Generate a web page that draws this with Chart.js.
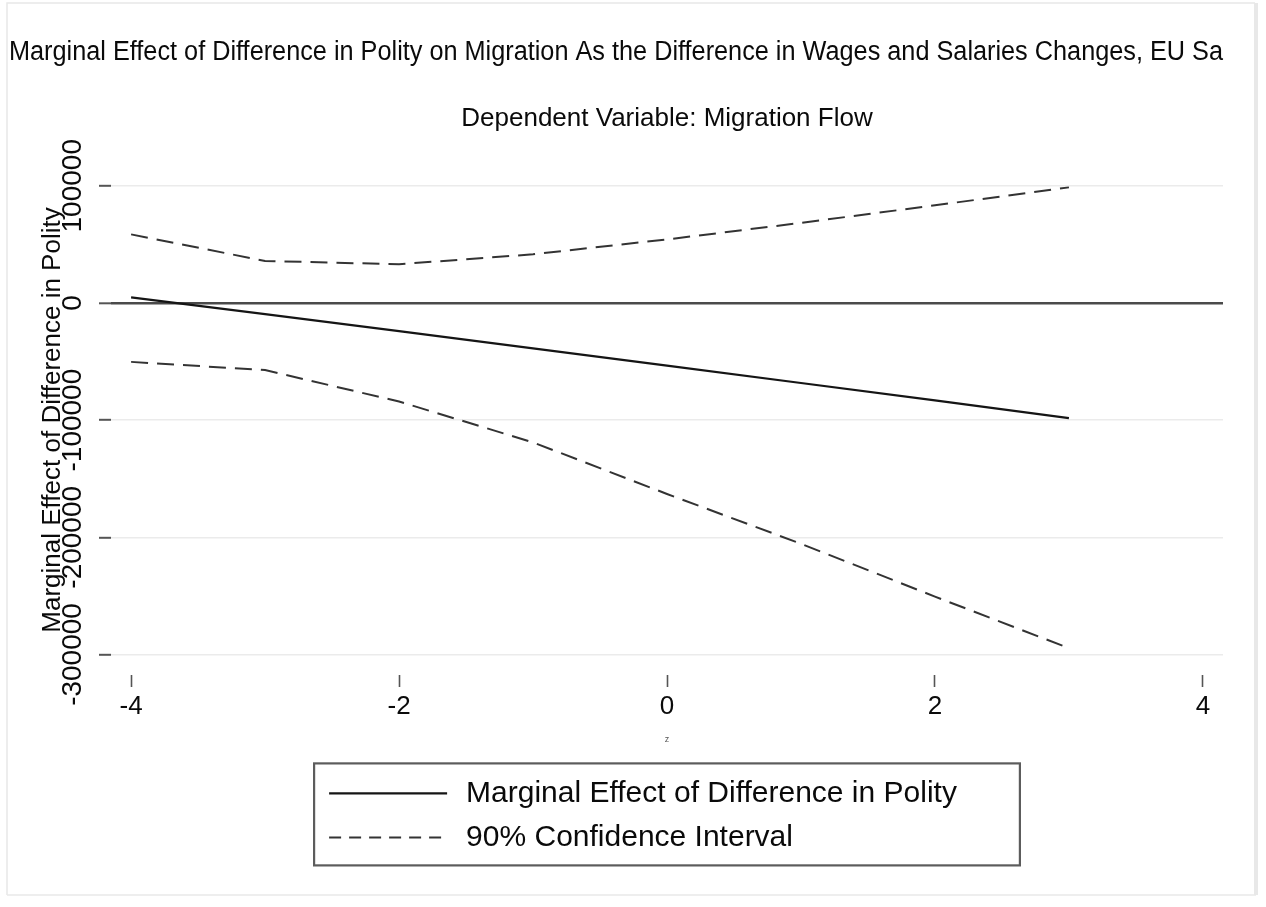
<!DOCTYPE html>
<html>
<head>
<meta charset="utf-8">
<title>Marginal Effect of Difference in Polity</title>
<script src="https://cdn.jsdelivr.net/npm/chart.js@4.4.1/dist/chart.umd.min.js"></script>
<style>
  html, body { margin: 0; padding: 0; background: #fff; }
  #wrap { width: 1266px; height: 907px; }
</style>
</head>
<body>
<div id="wrap"><canvas id="me-canvas" width="1266" height="907"></canvas></div>
<script>
// Marginal effect of polity difference across z, with 90% CI (Stata-style plot).

const zValues = [-4, -3, -2, -1, 0, 1, 2, 3];
const marginalEffect = [4800, -9500, -24000, -38800, -53500, -68300, -83200, -98300];
const ciUpper = [58500, 35800, 33000, 41500, 54200, 68300, 83300, 98600];
const ciLower = [-50300, -57300, -84100, -119000, -163000, -205500, -250600, -294600];

const xTicks = [-4, -2, 0, 2, 4];
const yTicks = [-300000, -200000, -100000, 0, 100000];

const titleText = 'Marginal Effect of Difference in Polity on Migration As the Difference in Wages and Salaries Changes, EU Sa';
const subtitleText = 'Dependent Variable: Migration Flow';
const yTitle = 'Marginal Effect of Difference in Polity';
const xTitle = 'z';
const legendLabels = ['Marginal Effect of Difference in Polity', '90% Confidence Interval'];

const FONT = '"Liberation Sans", Arial, Helvetica, sans-serif';
const INK = '#0a0a0a';

const toPoints = (ys) => zValues.map((z, i) => ({ x: z, y: ys[i] }));

// light frame round the whole graph, like the exported image
const frame = {
  id: 'frame',
  beforeDraw(chart) {
    const { ctx } = chart;
    ctx.save();
    ctx.fillStyle = '#fff';
    ctx.fillRect(0, 0, chart.width, chart.height);
    ctx.strokeStyle = '#e8e8e8';
    ctx.lineWidth = 1.5;
    ctx.beginPath();
    ctx.moveTo(7, 895);
    ctx.lineTo(7, 3);
    ctx.lineTo(1255, 3);
    ctx.stroke();
    ctx.lineWidth = 4;
    ctx.beginPath();
    ctx.moveTo(1256, 3);
    ctx.lineTo(1256, 895);
    ctx.stroke();
    ctx.lineWidth = 1.5;
    ctx.beginPath();
    ctx.moveTo(7, 895);
    ctx.lineTo(1256, 895);
    ctx.stroke();
    ctx.restore();
  },
};

// Stata prints the y labels turned on their side, on top of the axis title
const yTickLabels = {
  id: 'yTickLabels',
  afterDraw(chart) {
    const { ctx, chartArea, scales: { y } } = chart;
    ctx.save();
    ctx.font = `28px ${FONT}`;
    ctx.fillStyle = INK;
    ctx.textAlign = 'center';
    ctx.textBaseline = 'middle';
    y.ticks.forEach((t) => {
      ctx.save();
      ctx.translate(chartArea.left - 38, y.getPixelForValue(t.value));
      ctx.rotate(-Math.PI / 2);
      ctx.fillText(String(t.value), 0, 0);
      ctx.restore();
    });
    ctx.restore();
  },
};

// boxed legend, one key per row
const legendBox = {
  id: 'legendBox',
  afterDraw(chart) {
    const { ctx, chartArea, scales: { x } } = chart;
    const ds = chart.data.datasets;
    ctx.save();
    ctx.font = `30px ${FONT}`;
    const textW = Math.max(...legendLabels.map((l) => ctx.measureText(l).width));
    const sampleW = 118, gap = 19, padL = 15, padR = 63, h = 102;
    const w = padL + sampleW + gap + textW + padR;
    const left = (chartArea.left + chartArea.right) / 2 - w / 2;
    const top = x.bottom + 18;

    ctx.strokeStyle = '#5c5c5c';
    ctx.lineWidth = 2.2;
    ctx.strokeRect(left, top, w, h);

    const rows = [top + 30, top + 74];
    const keys = [ds[0], ds[1]];
    keys.forEach((d, i) => {
      ctx.strokeStyle = d.borderColor;
      ctx.lineWidth = d.borderWidth;
      ctx.setLineDash(i === 0 ? [] : [12, 8]);
      ctx.beginPath();
      ctx.moveTo(left + padL, rows[i]);
      ctx.lineTo(left + padL + sampleW, rows[i]);
      ctx.stroke();
      ctx.setLineDash([]);
      ctx.fillStyle = INK;
      ctx.textAlign = 'left';
      ctx.textBaseline = 'middle';
      ctx.fillText(legendLabels[i], left + padL + sampleW + gap, rows[i]);
    });
    ctx.restore();
  },
};

const canvas = document.getElementById('me-canvas');
new Chart(canvas, {
  type: 'line',
  data: {
    datasets: [
      {
        label: legendLabels[0],
        data: toPoints(marginalEffect),
        borderColor: '#151515',
        borderWidth: 2.2,
        pointRadius: 0,
        tension: 0,
      },
      {
        label: legendLabels[1],
        data: toPoints(ciUpper),
        borderColor: '#333',
        borderWidth: 2,
        borderDash: [17, 9],
        pointRadius: 0,
        tension: 0,
      },
      {
        label: legendLabels[1],
        data: toPoints(ciLower),
        borderColor: '#333',
        borderWidth: 2,
        borderDash: [17, 9],
        pointRadius: 0,
        tension: 0,
      },
    ],
  },
  options: {
    responsive: false,
    animation: false,
    layout: { padding: { left: 9, right: 43, top: 0, bottom: 161.6 } },
    plugins: {
      legend: { display: false },
      tooltip: { enabled: false },
      title: {
        display: true,
        text: titleText,
        align: 'start',
        color: INK,
        font: { family: FONT, size: 27, weight: 'normal' },
        padding: { top: 36.3, bottom: 0 },
      },
      subtitle: {
        display: true,
        text: subtitleText,
        fullSize: false,
        color: INK,
        font: { family: FONT, size: 26, weight: 'normal' },
        padding: { top: 34.7, bottom: 30.4 },
      },
    },
    scales: {
      x: {
        type: 'linear',
        min: -4.15,
        max: 4.15,
        afterBuildTicks: (s) => { s.ticks = xTicks.map((v) => ({ value: v })); },
        border: { display: false },
        grid: { drawOnChartArea: false, drawTicks: true, tickLength: 12, tickColor: '#555', tickWidth: 1.6 },
        ticks: { color: INK, padding: 4, maxRotation: 0, autoSkip: false, font: { family: FONT, size: 26 } },
        title: {
          display: true,
          text: xTitle,
          color: '#555',
          font: { family: FONT, size: 9 },
          padding: { top: 8.4, bottom: 0 },
        },
      },
      y: {
        min: -317500,
        max: 117700,
        afterBuildTicks: (s) => { s.ticks = yTicks.map((v) => ({ value: v })); },
        border: { display: false },
        grid: {
          color: (c) => (c.tick && c.tick.value === 0 ? '#4a4a4a' : '#ebebeb'),
          lineWidth: (c) => (c.tick && c.tick.value === 0 ? 2.6 : 1.6),
          tickColor: '#555',
          tickWidth: 2,
          tickLength: 12,
        },
        ticks: { display: false },
        title: {
          display: true,
          text: yTitle,
          color: INK,
          font: { family: FONT, size: 26 },
          padding: { top: 28.4, bottom: 30.4 },
        },
      },
    },
  },
  plugins: [frame, yTickLabels, legendBox],
});
</script>
</body>
</html>
